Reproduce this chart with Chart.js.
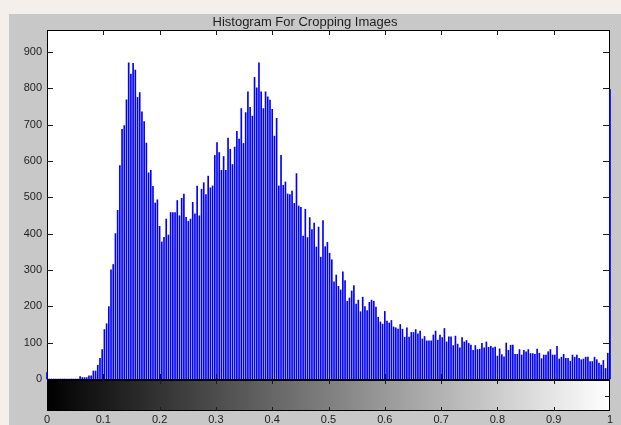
<!DOCTYPE html>
<html><head><meta charset="utf-8">
<script src="https://cdn.jsdelivr.net/npm/chart.js@4.4.1/dist/chart.umd.min.js"></script>
<style>
html,body{margin:0;padding:0;background:#f4efea;width:621px;height:425px;overflow:hidden;}
#panel{position:absolute;left:9px;top:14px;width:612px;height:411px;background:#c8c8c8;}
#c{position:absolute;left:0;top:0;}
</style></head><body>
<div id="panel"></div>
<canvas id="c" width="621" height="425"></canvas>
<script>
const chartTitle = 'Histogram For Cropping Images';

// imhist counts, 256 bins (0 .. 1)
const counts = [
  18,0,0,0,0,0,0,0,0,0,0,0,0,0,0,
  7,4,4,4,9,9,22,22,38,57,81,136,152,199,300,315,400,464,587,687,697,768,870,839,868,850,775,788,735,708,649,567,574,530,484,493,420,377,
  390,440,396,458,458,458,491,449,497,509,445,434,440,486,454,531,449,522,540,507,558,526,531,615,650,623,574,612,574,663,632,590,638,681,660,744,648,733,790,747,723,830,801,870,790,744,790,776,767,742,668,
  717,531,615,533,542,509,507,517,483,565,476,472,393,467,389,444,411,429,363,418,335,436,364,376,346,328,267,286,255,245,295,271,214,223,242,257,206,217,185,225,199,188,211,217,214,198,170,157,151,186,159,154,
  161,143,141,137,150,137,115,141,115,128,128,136,124,132,110,117,105,105,105,121,132,107,121,114,139,102,116,116,92,118,96,86,114,102,106,98,93,79,92,81,82,98,86,102,87,90,86,88,63,83,
  67,61,99,79,93,93,68,68,81,66,79,75,81,70,70,68,82,71,56,66,66,75,81,66,66,90,55,60,68,57,57,49,66,60,66,57,53,55,60,60,48,48,60,53,44,38,51,29,71,
  796
];
const xTickLabels = ['0','0.1','0.2','0.3','0.4','0.5','0.6','0.7','0.8','0.9','1'];
const yTickValues = [0,100,200,300,400,500,600,700,800,900];
const yMax = 960;

const binCenters = counts.map((_, i) => i / (counts.length - 1));
const points = binCenters.map((x, i) => ({ x: x, y: counts[i] }));

const FONT = 'Liberation Sans, Arial, sans-serif';
const TXT = '#1e1e1e';

const framePlugin = {
  id: 'frame',
  beforeDatasetsDraw(chart) {
    const a = chart.chartArea, c = chart.ctx;
    c.save();
    c.fillStyle = '#ffffff';
    c.fillRect(a.left, a.top, a.right - a.left, a.bottom - a.top);
    c.strokeStyle = '#000000';
    c.lineWidth = 1;
    c.strokeRect(a.left + 0.5, a.top + 0.5, a.right - a.left - 1, a.bottom - a.top);
    c.restore();
  },
  afterDraw(chart) {
    const a = chart.chartArea, c = chart.ctx;
    const xs = chart.scales.x, ys = chart.scales.y;
    c.save();
    // colorbar
    const cbTop = a.bottom + 1, cbBot = 411;
    const g = c.createLinearGradient(a.left, 0, a.right, 0);
    g.addColorStop(0, '#000000');
    g.addColorStop(1, '#ffffff');
    c.fillStyle = g;
    c.fillRect(a.left, cbTop, a.right - a.left, cbBot - cbTop);
    c.strokeStyle = '#000000';
    c.lineWidth = 1;
    c.strokeRect(a.left + 0.5, cbTop + 0.5, a.right - a.left - 1, cbBot - cbTop - 1);
    // bottom axis line of histogram
    c.beginPath();
    c.moveTo(a.left, a.bottom + 0.5); c.lineTo(a.right, a.bottom + 0.5);
    c.stroke();
    // ticks
    c.strokeStyle = '#1a1a1a';
    c.beginPath();
    xs.ticks.forEach(t => {
      if (t.value <= 0.001 || t.value >= 0.999) return;
      const px = Math.round(xs.getPixelForValue(t.value)) + 0.5;
      c.moveTo(px, a.top); c.lineTo(px, a.top + 5);
      c.moveTo(px, a.bottom); c.lineTo(px, a.bottom - 5);
      c.moveTo(px, cbTop); c.lineTo(px, cbTop + 4);
      c.moveTo(px, cbBot); c.lineTo(px, cbBot - 4);
    });
    ys.ticks.forEach(t => {
      if (t.value <= 0) return;
      const py = Math.round(ys.getPixelForValue(t.value)) + 0.5;
      c.moveTo(a.left, py); c.lineTo(a.left + 6, py);
      c.moveTo(a.right - 1, py); c.lineTo(a.right - 7, py);
    });
    const midY = Math.round((cbTop + cbBot) / 2) + 0.5;
    c.moveTo(a.right, midY); c.lineTo(a.right - 5, midY);
    c.stroke();
    c.restore();
  }
};

new Chart(document.getElementById('c'), {
  type: 'bar',
  data: {
    datasets: [{
      data: points,
      backgroundColor: '#0000ff',
      borderWidth: 0,
      barThickness: 1.0,
      clip: false
    }]
  },
  options: {
    responsive: false,
    animation: false,
    devicePixelRatio: 1,
    layout: { padding: { left: 0, right: 11, top: 0, bottom: 0 } },
    plugins: {
      legend: { display: false },
      tooltip: { enabled: false },
      title: {
        display: true,
        text: chartTitle,
        color: TXT,
        font: { family: FONT, size: 13, weight: 'normal' },
        padding: { top: 14.4, bottom: 0 }
      }
    },
    scales: {
      x: {
        type: 'linear', min: 0, max: 1, offset: false,
        grid: { display: false, drawTicks: true, tickLength: 32 },
        border: { display: false },
        ticks: {
          stepSize: 0.1, padding: 2, color: TXT, maxRotation: 0, autoSkip: false,
          font: { family: FONT, size: 11 },
          callback: (v, i) => xTickLabels[i]
        },
        afterFit: s => { s.height = 46; }
      },
      y: {
        min: 0, max: yMax,
        grid: { display: false, drawTicks: false },
        border: { display: false },
        ticks: { padding: 5, color: TXT, font: { family: FONT, size: 11 } },
        afterBuildTicks: s => { s.ticks = yTickValues.map(v => ({ value: v })); },
        afterFit: s => { s.width = 47; }
      }
    }
  },
  plugins: [framePlugin]
});
</script>
</body></html>
